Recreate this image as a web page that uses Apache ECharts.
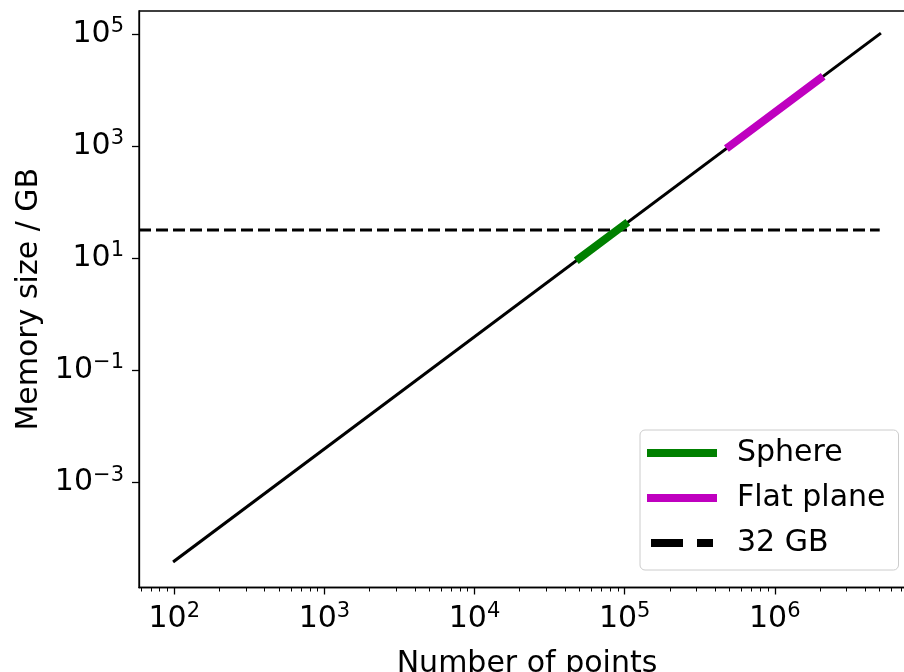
<!DOCTYPE html>
<html>
<head>
<meta charset="utf-8">
<script src="https://cdn.jsdelivr.net/npm/echarts@6/dist/echarts.min.js"></script>
<style>
  html, body { margin: 0; padding: 0; background: #fff; }
  #chart { width: 904px; height: 672px; }
</style>
</head>
<body>
<div id="chart"></div>
<script>
// values (log-log)
var axisMinX = 58.2, axisMaxX = 8.59e6;
var axisMinY = 1.35e-5, axisMaxY = 2.57e5;

var mainPoints = [100, 5000000];
var mainMemory = [4e-5, 100000];

var spherePoints = [50000, 100000];
var sphereMemory = [10, 40];

var planePoints = [500000, 2000000];
var planeMemory = [1000, 16000];

var limitPoints = [axisMinX, 5000000];
var limitMemory = [32, 32];

var xTickValues = [1e2, 1e3, 1e4, 1e5, 1e6];
var yTickValues = [1e-3, 1e-1, 1e1, 1e3, 1e5];

var legendNames = ['Sphere', 'Flat plane', '32 GB'];

// minor ticks 2..9 x 10^k on the x axis
var xMinorTicks = [];
for (var k = 1; k <= 6; k++) {
    for (var m = 2; m <= 9; m++) {
        var v = m * Math.pow(10, k);
        if (v > axisMinX && v < axisMaxX) xMinorTicks.push(v);
    }
}

function pairs(xs, ys) {
    return xs.map(function (x, i) { return [x, ys[i]]; });
}

function powLabel(value) {
    var e = Math.round(Math.log10(value));
    var s = e < 0 ? '\u2212' + (-e) : String(e);
    return '{b|10}{s|' + s + '}';
}

var font = 'DejaVu Sans';
var powRich = {
    b: { fontSize: 30, lineHeight: 36, fontFamily: font, color: '#000' },
    s: { fontSize: 21, lineHeight: 21, fontFamily: font, color: '#000', verticalAlign: 'top' }
};

var option = {
    animation: false,
    backgroundColor: '#fff',
    textStyle: { fontFamily: font },
    grid: {
        left: 139, top: 11, width: 776, height: 576.5,
        outerBoundsMode: 'none',
        show: true, borderColor: '#000', borderWidth: 1.3, backgroundColor: 'transparent'
    },
    legend: {
        data: [
            { name: legendNames[0], lineStyle: { width: 8, cap: 'square' } },
            { name: legendNames[1], lineStyle: { width: 8, cap: 'square' } },
            { name: legendNames[2], lineStyle: { width: 8, type: [32, 14], cap: 'butt' } }
        ],
        orient: 'vertical',
        left: 640, top: 430,
        padding: [8, 13, 12, 7],
        itemWidth: 62, itemHeight: 14, itemGap: 15,
        itemStyle: { opacity: 0 },
        backgroundColor: '#fff',
        borderColor: '#cccccc', borderWidth: 1, borderRadius: 5,
        textStyle: { fontFamily: font, fontSize: 30, color: '#000', padding: [0, 0, 0, 19] }
    },
    xAxis: [
        {
            type: 'log', logBase: 10,
            min: axisMinX, max: axisMaxX,
            name: 'Number of points',
            nameLocation: 'middle', nameGap: 62,
            nameTextStyle: { fontFamily: font, fontSize: 30, color: '#000' },
            axisLine: { show: true, lineStyle: { color: '#000', width: 1.3 } },
            axisTick: { show: true, length: 7, lineStyle: { color: '#000', width: 1.3 },
                        customValues: xTickValues },
            axisLabel: { show: true, margin: 14, color: '#000',
                         customValues: xTickValues, formatter: powLabel, rich: powRich },
            splitLine: { show: false }
        },
        {
            type: 'log', logBase: 10, position: 'bottom', gridIndex: 0,
            min: axisMinX, max: axisMaxX,
            axisLine: { show: false },
            axisTick: { show: true, length: 4, lineStyle: { color: '#000', width: 1 },
                        customValues: xMinorTicks },
            axisLabel: { show: false },
            splitLine: { show: false }
        }
    ],
    yAxis: {
        type: 'log', logBase: 10,
        min: axisMinY, max: axisMaxY,
        name: 'Memory size / GB',
        nameLocation: 'middle', nameGap: 94, nameRotate: 90,
        nameTextStyle: { fontFamily: font, fontSize: 30, color: '#000' },
        axisLine: { show: true, lineStyle: { color: '#000', width: 1.3 } },
        axisTick: { show: true, length: 7, lineStyle: { color: '#000', width: 1.3 },
                    customValues: yTickValues },
        axisLabel: { show: true, margin: 15, color: '#000',
                     customValues: yTickValues, formatter: powLabel, rich: powRich },
        splitLine: { show: false }
    },
    series: [
        {
            name: 'main', type: 'line', symbol: 'none', z: 2,
            data: pairs(mainPoints, mainMemory),
            lineStyle: { color: '#000', width: 3, cap: 'square' }
        },
        {
            name: '32 GB', type: 'line', symbol: 'none', z: 3,
            data: pairs(limitPoints, limitMemory),
            itemStyle: { color: '#000' },
            lineStyle: { color: '#000', width: 3, type: [12, 5] }
        },
        {
            name: 'Sphere', type: 'line', symbol: 'none', z: 4,
            data: pairs(spherePoints, sphereMemory),
            itemStyle: { color: '#008000' },
            lineStyle: { color: '#008000', width: 8, cap: 'square' }
        },
        {
            name: 'Flat plane', type: 'line', symbol: 'none', z: 4,
            data: pairs(planePoints, planeMemory),
            itemStyle: { color: '#bf00bf' },
            lineStyle: { color: '#bf00bf', width: 8, cap: 'square' }
        }
    ]
};

var myChart = echarts.init(document.getElementById('chart'), null, { renderer: 'canvas' });
myChart.setOption(option);
</script>
</body>
</html>
